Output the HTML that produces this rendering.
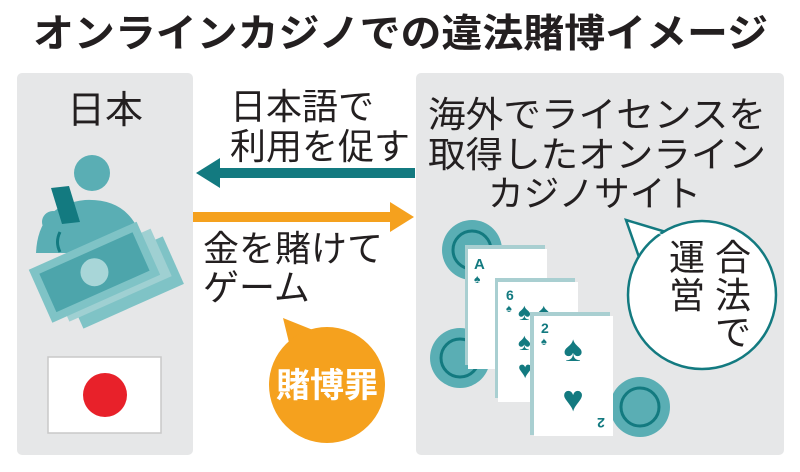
<!DOCTYPE html>
<html><head><meta charset="utf-8"><style>
html,body{margin:0;padding:0;background:#fff}
svg{display:block}
text{font-family:"Liberation Sans","Noto Sans CJK JP",sans-serif}
</style></head><body>
<svg width="800" height="472" viewBox="0 0 800 472" xmlns="http://www.w3.org/2000/svg">
<rect width="800" height="472" fill="#fff"/>
<text x="33" y="47" font-size="39" font-weight="bold" fill="#231f20" textLength="735" lengthAdjust="spacingAndGlyphs">オンラインカジノでの違法賭博イメージ</text>

<rect x="17" y="73" width="176" height="382" rx="5" fill="#e6e7e8"/>
<rect x="416" y="73" width="368" height="382" rx="5" fill="#e6e7e8"/>

<text x="105" y="123" font-size="38" fill="#231f20" text-anchor="middle">日本</text>

<!-- person -->
<circle cx="92" cy="173" r="18" fill="#5aaeb4"/>
<path d="M36 253 Q38 205 85 200 Q130 198 142 240 L142 253 Z" fill="#5aaeb4"/>
<circle cx="53" cy="222" r="11" fill="#5aaeb4"/>
<polygon points="51,188 69,186 80,222 62,224" fill="#137a80"/>
<path d="M60 232 Q55 242 60 252" stroke="#137a80" stroke-width="3" fill="none"/>
<!-- bills -->
<g transform="rotate(-24 110 285)">
<rect x="68" y="262" width="110" height="52" fill="#7fc3c6"/>
<rect x="58" y="250" width="112" height="52" fill="#9fd0d2"/>
<rect x="42" y="238" width="118" height="58" fill="#7fc3c6"/>
<rect x="50" y="246" width="102" height="42" fill="#4da5ab"/>
<circle cx="101" cy="267" r="14" fill="#a8d6d8"/>
</g>

<!-- flag -->
<rect x="48" y="357" width="113" height="76" fill="#fff" stroke="#c8c8c8" stroke-width="1.5"/>
<circle cx="105" cy="395" r="22" fill="#e8212a"/>

<!-- arrows -->
<text x="230" y="119" font-size="36" fill="#231f20">日本語で</text>
<text x="230" y="159" font-size="36" fill="#231f20">利用を促す</text>
<rect x="215" y="168" width="200" height="10" fill="#137a80"/>
<polygon points="196,173 220,158 220,188" fill="#137a80"/>

<rect x="193" y="212" width="200" height="10" fill="#f5a11e"/>
<polygon points="414,217 390,202 390,232" fill="#f5a11e"/>
<text x="203" y="261" font-size="36" fill="#231f20">金を賭けて</text>
<text x="203" y="300" font-size="36" fill="#231f20">ゲーム</text>

<polygon points="283,318 318,332 292,355" fill="#f5a11e"/>
<circle cx="327" cy="385" r="58" fill="#f5a11e"/>
<text x="327" y="397" font-size="34" font-weight="bold" fill="#fff" text-anchor="middle">賭博罪</text>

<!-- right text -->
<text x="428" y="127" font-size="36" fill="#231f20" textLength="338" lengthAdjust="spacingAndGlyphs">海外でライセンスを</text>
<text x="428" y="167" font-size="36" fill="#231f20" textLength="338" lengthAdjust="spacingAndGlyphs">取得したオンライン</text>
<text x="488" y="206" font-size="36" fill="#231f20" textLength="213" lengthAdjust="spacingAndGlyphs">カジノサイト</text>

<!-- chips -->
<g fill="#5aaeb4" stroke="#137a80">
<circle cx="472" cy="250" r="30" stroke-width="0"/>
<circle cx="472" cy="250" r="19" stroke-width="3"/>
<circle cx="460" cy="358" r="30" stroke-width="0"/>
<circle cx="460" cy="358" r="19" stroke-width="3"/>
<circle cx="640" cy="407" r="30" stroke-width="0"/>
<circle cx="640" cy="407" r="19" stroke-width="3"/>
</g>

<!-- cards -->
<rect x="465" y="245" width="80" height="120" fill="#a9cfd1"/>
<rect x="468" y="249" width="79" height="120" fill="#fff"/>
<text x="474" y="269" font-size="15" font-weight="bold" fill="#137a80">A</text>
<text x="474" y="283" font-size="12" fill="#137a80">♠</text>
<rect x="495" y="278" width="80" height="120" fill="#a9cfd1"/>
<rect x="498" y="282" width="80" height="120" fill="#fff"/>
<text x="506" y="300" font-size="14" font-weight="bold" fill="#137a80">6</text>
<text x="506" y="312" font-size="11" fill="#137a80">♠</text>
<text x="518" y="320" font-size="24" fill="#137a80">♠ ♠</text>
<text x="518" y="350" font-size="24" fill="#137a80">♠</text>
<text x="518" y="378" font-size="24" fill="#137a80">♥</text>
<rect x="530" y="312" width="80" height="123" fill="#a9cfd1"/>
<rect x="534" y="316" width="79" height="120" fill="#fff"/>
<text x="541" y="333" font-size="14" font-weight="bold" fill="#137a80">2</text>
<text x="541" y="345" font-size="11" fill="#137a80">♠</text>
<text x="573" y="361" font-size="36" fill="#137a80" text-anchor="middle">♠</text>
<text x="573" y="411" font-size="36" fill="#137a80" text-anchor="middle">♥</text>
<text x="601" y="428" font-size="14" font-weight="bold" fill="#137a80" text-anchor="middle" transform="rotate(180 601 423)">2</text>

<!-- bubble -->
<polygon points="626,220 666,232 640,260" fill="#fff" stroke="#137a80" stroke-width="2.5" stroke-linejoin="miter"/>
<circle cx="702" cy="295" r="74" fill="#fff" stroke="#137a80" stroke-width="2.5"/>
<polygon points="630,223 667,236 643,262 650,268 675,240" fill="#fff"/>
<g font-size="36" fill="#231f20" text-anchor="middle">
<text x="733" y="270">合</text>
<text x="733" y="308">法</text>
<text x="733" y="345">で</text>
<text x="687" y="270">運</text>
<text x="687" y="308">営</text>
</g>
</svg>
</body></html>
